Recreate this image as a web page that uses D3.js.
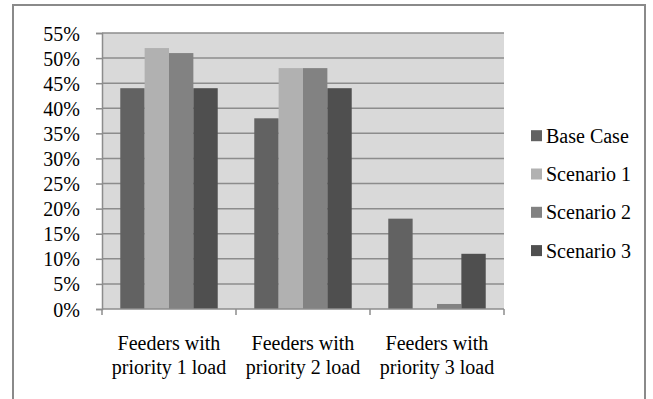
<!DOCTYPE html>
<html><head><meta charset="utf-8">
<script src="https://cdn.jsdelivr.net/npm/d3@7"></script>
<style>body{margin:0;background:#fff}svg{display:block}
text{font-family:"Liberation Serif","Times New Roman",serif;}</style>
</head><body>
<script>
const categories = [["Feeders with","priority 1 load"],["Feeders with","priority 2 load"],["Feeders with","priority 3 load"]];
const seriesNames = ["Base Case","Scenario 1","Scenario 2","Scenario 3"];
const baseCase  = [44, 38, 18];
const scenario1 = [52, 48, 0];
const scenario2 = [51, 48, 1];
const scenario3 = [44, 44, 11];
const yTicks = [0,5,10,15,20,25,30,35,40,45,50,55];
const colors = ["#626262","#b1b1b1","#828282","#4f4f4f"];

const series = [baseCase, scenario1, scenario2, scenario3];
const W = 653, H = 399;
const FS = 20;
const svg = d3.select("body").append("svg").attr("width", W).attr("height", H);

// outer frame
svg.append("rect").attr("x",13).attr("y",5).attr("width",632).attr("height",400)
  .attr("fill","#fff").attr("stroke","#8a8a8a").attr("stroke-width",2);

const m = {left:102, right:504, top:33, bottom:309};
const x = d3.scaleBand().domain(d3.range(categories.length)).range([m.left, m.right]).paddingInner(0).paddingOuter(0);
const y = d3.scaleLinear().domain([0,55]).range([m.bottom, m.top]);
const bw = x.bandwidth()/5.5;
const x1 = d3.scaleBand().domain(d3.range(4)).range([bw*0.75, x.bandwidth()-bw*0.75]).padding(0);

svg.append("rect").attr("x",m.left).attr("y",m.top).attr("width",m.right-m.left).attr("height",m.bottom-m.top).attr("fill","#d9d9d9");

// gridlines
svg.append("g").selectAll("line").data(yTicks.filter(t=>t>0)).join("line")
  .attr("x1",m.left).attr("x2",m.right).attr("y1",d=>y(d)).attr("y2",d=>y(d))
  .attr("stroke","#8c8c8c").attr("stroke-width",1.5);

// bars
const g = svg.append("g");
categories.forEach((c,i)=>{
  series.forEach((s,j)=>{
    if (s[i] <= 0) return;
    g.append("rect").attr("x",x(i)+x1(j)).attr("width",x1.bandwidth())
      .attr("y",y(s[i])).attr("height",y(0)-y(s[i])).attr("fill",colors[j]);
  });
});

// y axis
const yAxis = d3.axisLeft(y).tickValues(yTicks).tickFormat(d=>d+"%").tickSize(6).tickPadding(16);
const ya = svg.append("g").attr("transform",`translate(${m.left},0)`).call(yAxis);
ya.attr("font-family",null).attr("font-size",null);
ya.select(".domain").attr("stroke","#8c8c8c").attr("stroke-width",1.5);
ya.selectAll(".tick line").attr("stroke","#8c8c8c").attr("stroke-width",1.5);
ya.selectAll("text").attr("font-size",FS).attr("fill","#000").attr("dy",null).attr("y",7);

// x axis
svg.append("line").attr("x1",m.left).attr("x2",m.right).attr("y1",m.bottom).attr("y2",m.bottom).attr("stroke","#8c8c8c").attr("stroke-width",1.5);
const xt = d3.range(categories.length+1).map(i=> i<categories.length ? x(i) : m.right);
svg.append("g").selectAll("line").data(xt).join("line")
  .attr("x1",d=>d).attr("x2",d=>d).attr("y1",m.bottom).attr("y2",m.bottom+6)
  .attr("stroke","#8c8c8c").attr("stroke-width",1.5);
const xl = svg.append("g");
categories.forEach((c,i)=>{
  const t = xl.append("text").attr("x",x(i)+x.bandwidth()/2).attr("y",350)
    .attr("text-anchor","middle").attr("font-size",FS).attr("fill","#000");
  c.forEach((line,k)=>t.append("tspan").attr("x",x(i)+x.bandwidth()/2).attr("dy",k?23.5:0).text(line));
});

// legend
const lg = svg.append("g");
seriesNames.forEach((n,j)=>{
  const by = 142.7 + j*38.3;
  lg.append("rect").attr("x",531).attr("y",by-12.5).attr("width",11).attr("height",11).attr("fill",colors[j]);
  lg.append("text").attr("x",546).attr("y",by).attr("font-size",FS).attr("fill","#000").text(n);
});
</script>
</body></html>
